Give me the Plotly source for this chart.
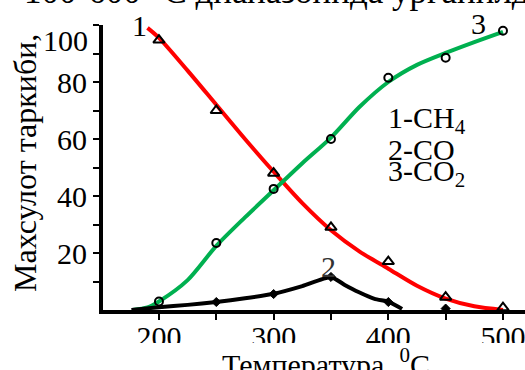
import plotly.graph_objects as go

# ---- data ----
# Curve 1 (CH4) smooth line
ch4_line_x = [190, 200, 225, 250, 275, 300, 325, 350, 375, 400, 425, 450, 475, 500]
ch4_line_y = [99, 95.5, 84, 72, 60, 48.5, 37.5, 28, 20.5, 14.5, 8.5, 4, 1.3, 0]
# Curve 1 markers (triangles)
ch4_pts_x = [200, 250, 300, 350, 400, 450, 500]
ch4_pts_y = [94.7, 70, 48, 29, 17, 4.5, 0.8]

# Curve 3 (CO2) smooth line
co2_line_x = [177, 190, 200, 225, 250, 275, 300, 325, 350, 375, 400, 425, 450, 475, 500]
co2_line_y = [0, 0.9, 3, 10.5, 22.5, 32.5, 42, 51.5, 60.5, 71.3, 80, 86, 90.2, 94, 97.6]
# Curve 3 markers (circles)
co2_pts_x = [200, 250, 300, 350, 400, 450, 500]
co2_pts_y = [3, 23.5, 42.5, 60, 81.5, 88.5, 98]

# Curve 2 (CO) line
co_line_x = [176, 200, 225, 250, 275, 300, 325, 350, 362, 374, 388, 401, 412]
co_line_y = [0, 1.0, 1.8, 2.8, 4.1, 5.7, 8.4, 11.6, 8.8, 6.3, 3.9, 2.8, 0.4]
# Curve 2 markers (diamonds)
co_pts_x = [250, 300, 350, 400, 450]
co_pts_y = [2.8, 5.6, 11.6, 2.8, 0.5]

y_tickvals = [20, 40, 60, 80, 100]
y_ticktext = ["20", "40", "60", "80", ""]
x_tickvals = [200, 300, 400, 500]
x_ticktext = ["200", "300", "400", "500"]

FONT = "Liberation Serif"
RED = "#ff0000"
GREEN = "#00b050"

fig = go.Figure()
fig.add_trace(go.Scatter(x=ch4_line_x, y=ch4_line_y, mode="lines",
                         line=dict(color=RED, width=4, shape="spline", smoothing=0.8),
                         hoverinfo="skip"))
fig.add_trace(go.Scatter(x=co2_line_x, y=co2_line_y, mode="lines",
                         line=dict(color=GREEN, width=4, shape="spline", smoothing=0.8),
                         hoverinfo="skip"))
fig.add_trace(go.Scatter(x=co_line_x, y=co_line_y, mode="lines",
                         line=dict(color="black", width=4, shape="spline", smoothing=0.5),
                         hoverinfo="skip"))
fig.add_trace(go.Scatter(x=ch4_pts_x, y=ch4_pts_y, mode="markers",
                         marker=dict(symbol="triangle-up-open", size=10, color="black",
                                     line=dict(width=2, color="black"))))
fig.add_trace(go.Scatter(x=co2_pts_x, y=co2_pts_y, mode="markers",
                         marker=dict(symbol="circle-open", size=8, color="black",
                                     line=dict(width=2, color="black"))))
fig.add_trace(go.Scatter(x=co_pts_x, y=co_pts_y, mode="markers",
                         marker=dict(symbol="diamond", size=7, color="black",
                                     line=dict(width=1, color="black"))))

L, R, T, B = 103, 0, 25, 60
W, H = 525, 370
pw, ph = W - L - R, H - T - B

def px(xp):
    return (xp - L) / pw

def py(yp):
    return (H - B - yp) / ph

ann = []
def txt(s, x, y, size=30, xanchor="center", yanchor="middle", color="black", textangle=0):
    ann.append(dict(text=s, x=px(x), y=py(y), xref="paper", yref="paper",
                    xanchor=xanchor, yanchor=yanchor, showarrow=False,
                    textangle=textangle,
                    font=dict(family=FONT, size=size, color=color)))

# cropped document line at the top
txt("100-600 °С диапазонида урганилди", 22, 13, size=35, xanchor="left", yanchor="bottom")
# curve numbers
txt("1", 139, 25, size=30)
txt("3", 478, 24, size=30)
txt("2", 328, 266, size=30, color="#333333")
# key
txt("1-CH<sub>4</sub>", 386, 120, size=30, xanchor="left")
txt("2-CO", 386, 149, size=30, xanchor="left")
txt("3-CO<sub>2</sub>", 386, 173, size=30, xanchor="left")
# "100" tick label (placed lower than the tick in the reference)
txt("100", 90, 40, size=30, xanchor="right")
# axis titles
txt("Махсулот таркиби,", 25, 163, size=32, textangle=-90)
txt("Температура, <sup>0</sup>C", 326, 341, size=30, yanchor="top")

# white band that crops the lower part of the x tick labels, as in the source image
shapes = [dict(type="rect", xref="paper", yref="paper",
               x0=px(0), x1=px(W), y0=py(H + 5), y1=py(343),
               fillcolor="white", line=dict(width=0), layer="above")]

fig.update_layout(
    width=W, height=H,
    margin=dict(l=L, r=R, t=T, b=B, pad=0),
    paper_bgcolor="white", plot_bgcolor="white",
    showlegend=False,
    font=dict(family=FONT, size=30, color="black"),
    annotations=ann,
    shapes=shapes,
    xaxis=dict(range=[151.2, 519.2], showgrid=False, zeroline=False,
               showline=True, linewidth=4, linecolor="black",
               ticks="outside", ticklen=6, tickwidth=2, tickcolor="black",
               tickvals=x_tickvals, ticktext=x_ticktext,
               ticklabeloverflow="allow", ticklabelstandoff=-9,
               tickfont=dict(family=FONT, size=30, color="black"),
               minor=dict(tickvals=[250, 350, 450], ticks="outside", ticklen=6,
                          tickwidth=2, tickcolor="black")),
    yaxis=dict(range=[0, 100], showgrid=False, zeroline=False,
               showline=True, linewidth=4, linecolor="black",
               ticks="outside", ticklen=6, tickwidth=2, tickcolor="black",
               tickvals=y_tickvals, ticktext=y_ticktext,
               tickfont=dict(family=FONT, size=30, color="black"),
               minor=dict(tickvals=[10, 30, 50, 70, 90], ticks="outside", ticklen=6,
                          tickwidth=2, tickcolor="black")),
)

fig.write_html("out.html")
